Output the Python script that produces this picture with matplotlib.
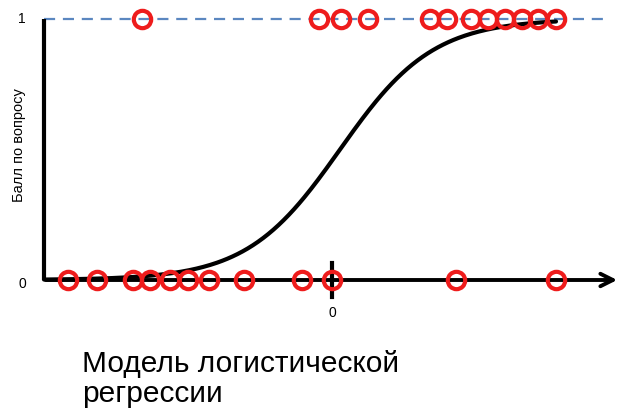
import matplotlib
matplotlib.use('Agg')
import matplotlib.pyplot as plt
import numpy as np

plt.rcParams['font.family'] = ['Liberation Sans', 'DejaVu Sans']

# observed answers: score 0 and score 1 along the latent scale
x_zero = [-5.28, -4.70, -3.98, -3.64, -3.24, -2.88, -2.46, -1.76, -0.60, 0.00, 2.48, 4.48]
x_one = [-3.80, -0.26, 0.18, 0.72, 1.96, 2.30, 2.78, 3.12, 3.46, 3.80, 4.12, 4.48]

# fitted logistic model
midpoint = 0.16
scale = 0.93
x_min, x_max = -5.76, 4.48

y_ticks = [0, 1]
y_tick_labels = ['0', '1']
title = 'Модель логистической\nрегрессии'
y_label = 'Балл по вопросу'

fig = plt.figure(figsize=(6.23, 4.09), dpi=100)
ax = fig.add_axes([44 / 623, 129 / 409, 576 / 623, 261 / 409])
ax.set_xlim(-5.76, 5.76)
ax.set_ylim(0, 1)
for s in ax.spines.values():
    s.set_visible(False)
ax.set_xticks([])
ax.set_yticks([])

# dashed ceiling at score 1
ax.plot([-5.76, 5.56], [1, 1], color='#5b87c0', lw=1.6, dashes=(5, 3.5), clip_on=False, zorder=1)

# axes with arrow
ax.plot([-5.76, -5.76], [0, 1], color='black', lw=3, solid_capstyle='butt', clip_on=False, zorder=2)
ax.annotate('', xy=(5.76, 0), xytext=(-5.78, 0),
            arrowprops=dict(arrowstyle='->,head_length=0.9,head_width=0.45', lw=2.8, color='black'),
            annotation_clip=False, zorder=2)
ax.plot([0, 0], [-0.065, 0.065], color='black', lw=3, clip_on=False, zorder=2)

# logistic curve
xs = np.linspace(x_min, x_max, 300)
ys = 1 / (1 + np.exp(-(xs - midpoint) / scale))
ax.plot(xs, ys, color='black', lw=3, solid_capstyle='round', clip_on=False, zorder=3)

# data points
marker_kw = dict(marker='o', ls='none', ms=12.5, mew=3, mfc='none', mec='#ee1c1c', clip_on=False, zorder=4)
ax.plot(x_zero, np.zeros(len(x_zero)), **marker_kw)
ax.plot(x_one, np.ones(len(x_one)), **marker_kw)

# labels
for v, lab in zip(y_ticks, y_tick_labels):
    ax.text(-6.2, v + (-0.015 if v == 0 else 0), lab, ha='center', va='center', fontsize=10)
ax.text(0, -0.125, '0', ha='center', va='center', fontsize=10)
fig.text(19 / 623, 1 - 145 / 409, y_label, rotation=90, ha='center', va='center', fontsize=10.5)
fig.text(82 / 623, 1 - 379 / 409, title, ha='left', va='center', fontsize=21.5, linespacing=1.05)

fig.savefig('out.png', dpi=100)
